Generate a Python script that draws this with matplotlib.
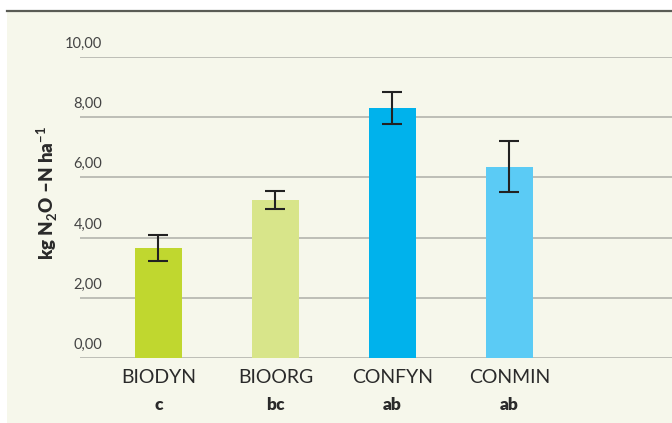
import matplotlib.pyplot as plt
from matplotlib.patches import Rectangle

categories = ['BIODYN', 'BIOORG', 'CONFYN', 'CONMIN']
letters = ['c', 'bc', 'ab', 'ab']
values = [3.65, 5.25, 8.31, 6.35]
errors = [0.43, 0.31, 0.53, 0.85]
colors = ['#C0D72F', '#D8E58A', '#00B2EC', '#5BCBF5']
yticks = [0, 2, 4, 6, 8, 10]

bg = '#F6F7EB'
plt.rcParams['font.family'] = ['Lato', 'DejaVu Sans']
plt.rcParams['mathtext.fontset'] = 'custom'
plt.rcParams['mathtext.rm'] = 'Lato'
plt.rcParams['mathtext.bf'] = 'Lato:bold'

fig = plt.figure(figsize=(6.72, 4.23), dpi=100)
fig.patch.set_facecolor('white')
# cream panel with top rule
fig.patches.append(Rectangle((7 / 672, 0), 1, 411 / 423, transform=fig.transFigure,
                             facecolor=bg, edgecolor='none', zorder=-5))
fig.lines.append(plt.Line2D([7 / 672, 1], [411.5 / 423, 411.5 / 423], transform=fig.transFigure,
                            color='#5a5c55', linewidth=1.6, zorder=-4))

ax = fig.add_axes([80 / 672, (423 - 358) / 423, 592 / 672, 301 / 423])
ax.set_facecolor('none')
x = range(len(categories))
ax.bar(x, values, width=0.40, color=colors, zorder=2)
ax.errorbar(x, values, yerr=errors, fmt='none', ecolor='#222222', elinewidth=1.5,
            capsize=7, capthick=1.5, zorder=3)

ax.set_xlim(-0.67, 4.39)
ax.set_ylim(0, 10)
for t in yticks:
    ax.axhline(t, color='#b8b9b2', linewidth=1.3, zorder=1)
    ax.text(-0.48, t + 0.2, f'{t},00', ha='right', va='bottom',
            fontsize=10.5, color='#444444')

for s in ax.spines.values():
    s.set_visible(False)
ax.set_yticks([])
ax.set_xticks(list(x))
ax.set_xticklabels(categories, fontsize=14, color='#2a2a2a')
ax.tick_params(axis='x', length=0, pad=8)
for i, l in enumerate(letters):
    ax.text(i, -1.55, l, ha='center', va='center', fontsize=12.5, fontweight='heavy',
            color='#2a2a2a')

fig.text(47 / 672, 1 - 193 / 423, r'kg N$_\mathbf{2}$O –N ha$^{\mathbf{-1}}$', rotation=90,
         ha='center', va='center', fontsize=13.5, fontweight='heavy', color='#2a2a2a')

fig.savefig('out.png', dpi=100, facecolor='white')
